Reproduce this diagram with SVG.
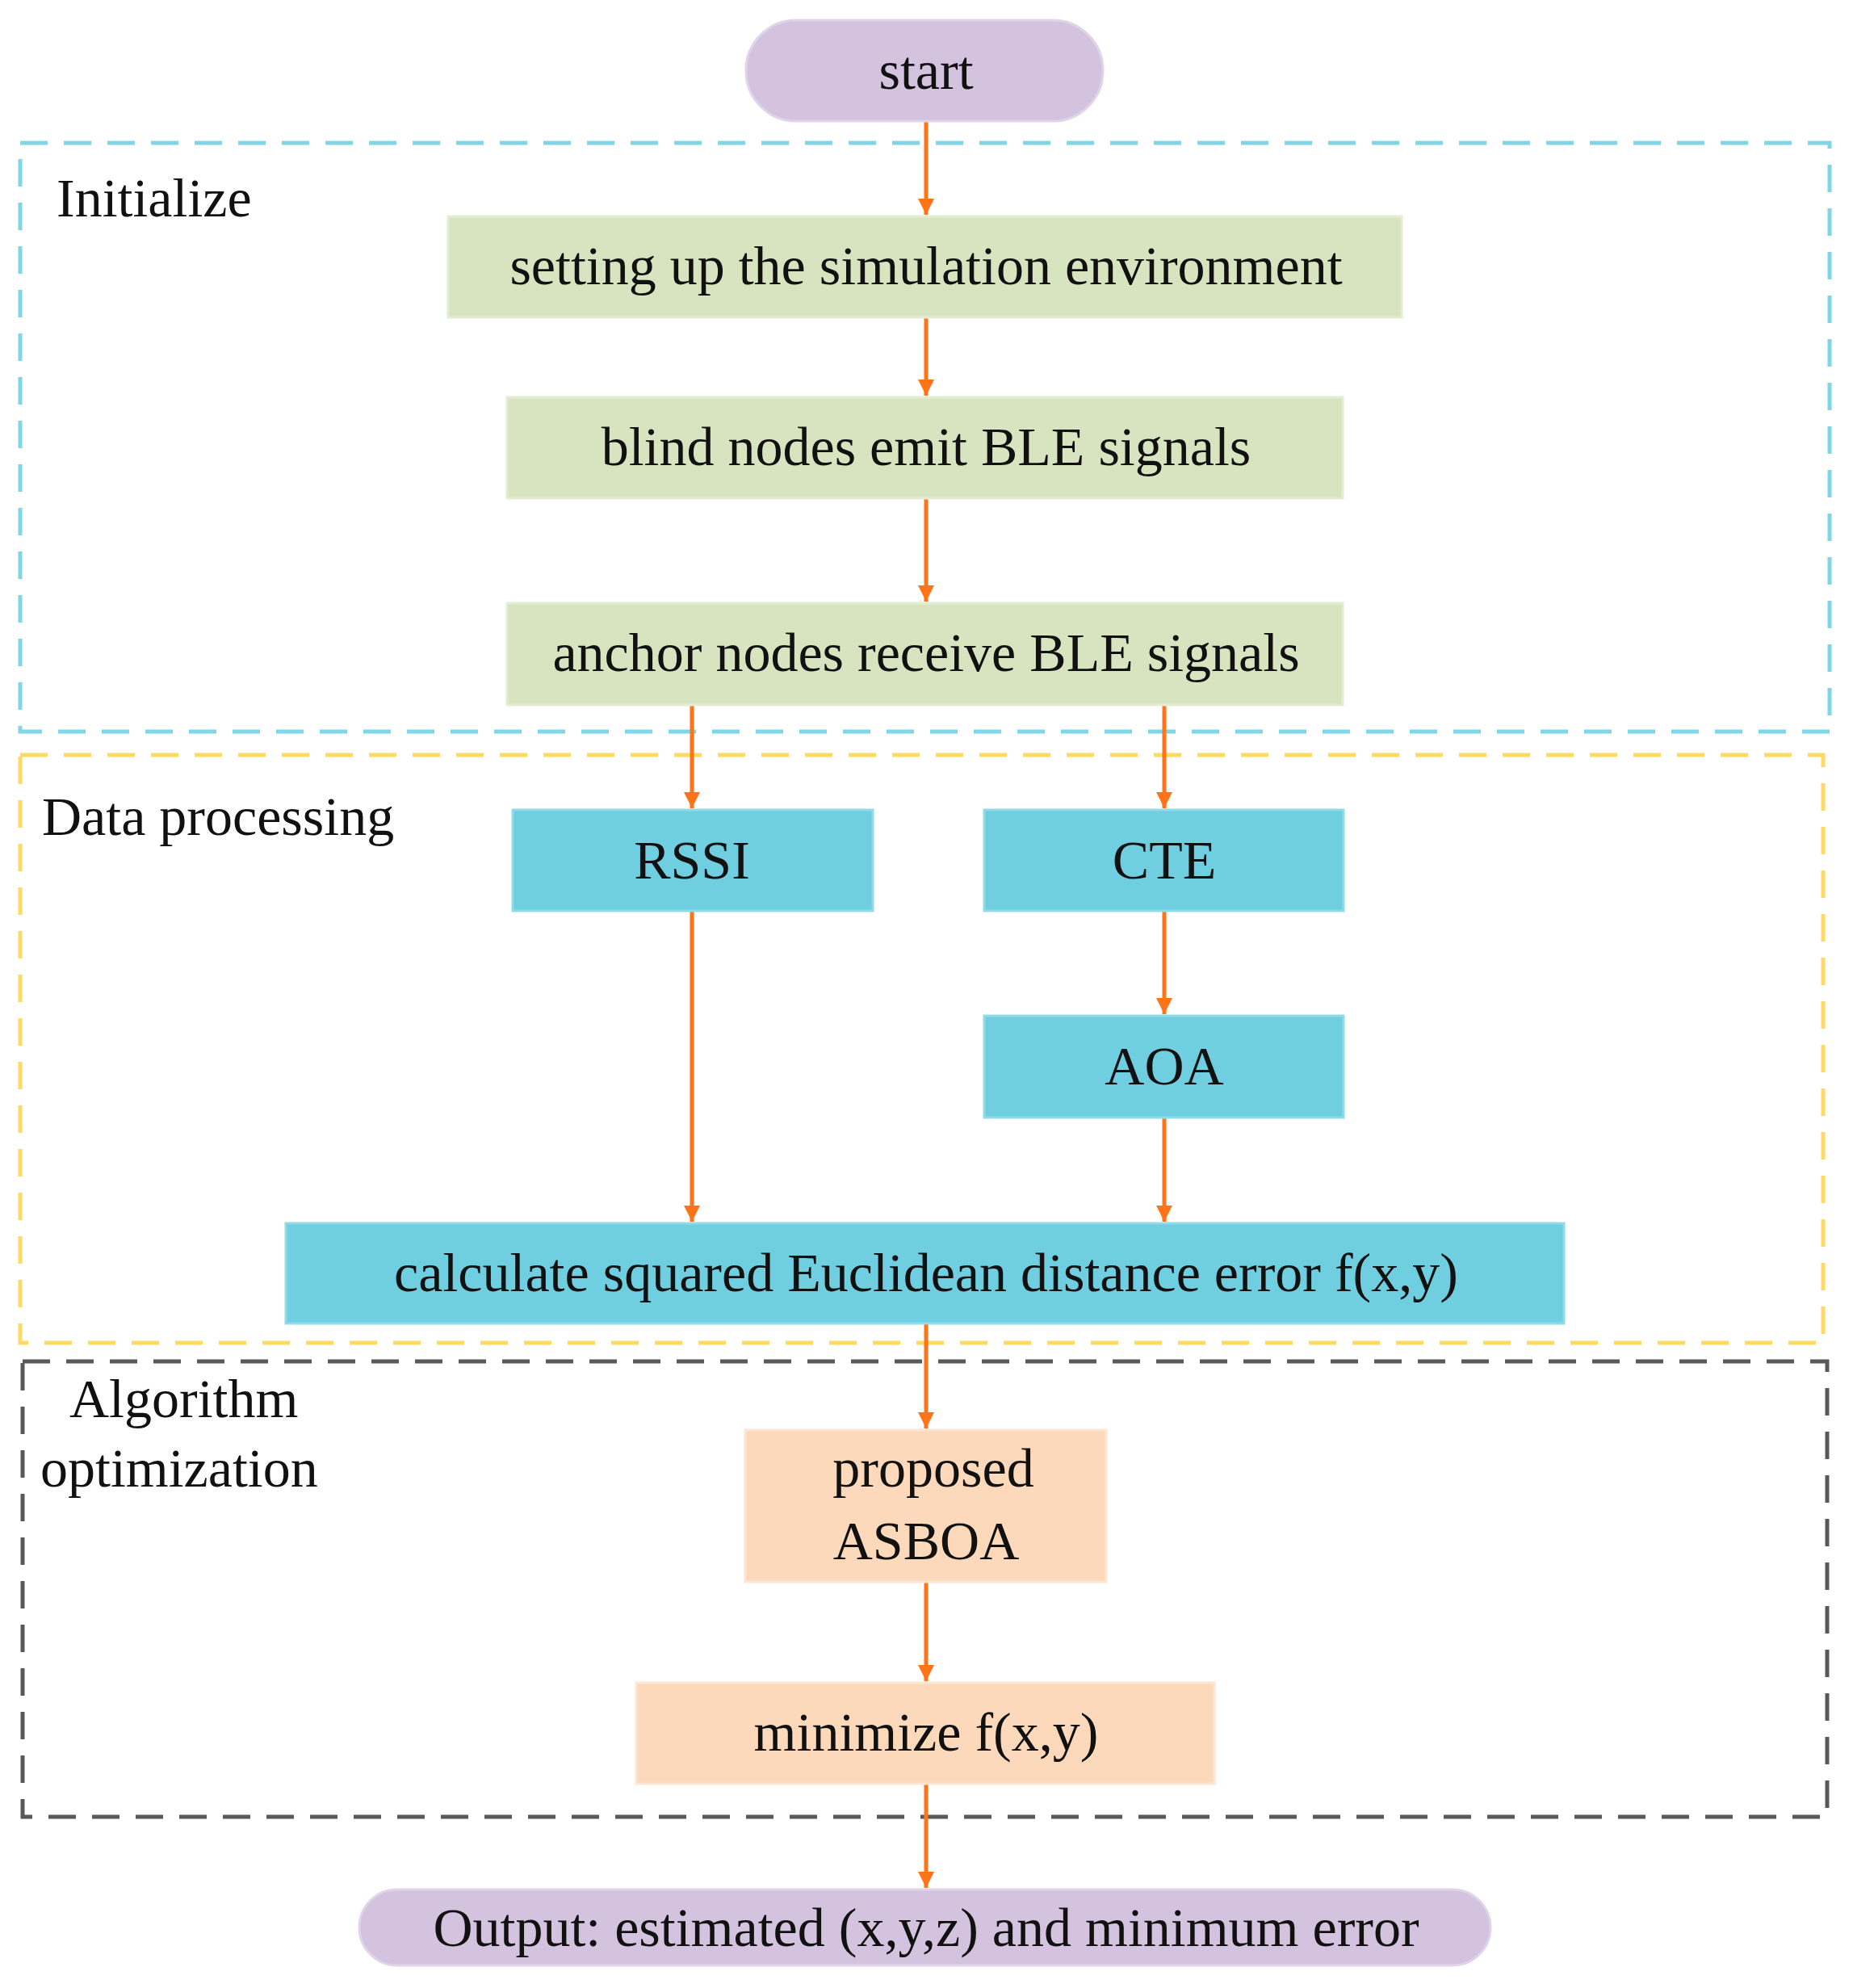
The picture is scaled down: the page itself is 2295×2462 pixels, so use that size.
<svg xmlns="http://www.w3.org/2000/svg" width="2295" height="2462" viewBox="0 0 2295 2462">
<style>
text{font-family:"Liberation Serif","Times New Roman",serif;font-size:68px;fill:#111}
.c{text-anchor:middle}
.g{fill:#d7e4bf;stroke:#e3edd2;stroke-width:3}
.b{fill:#6fcedf;stroke:#8fdbe8;stroke-width:3}
.p{fill:#fdd9bb;stroke:#fee6d2;stroke-width:3}
.u{fill:#d3c3df;stroke:#e0d4e8;stroke-width:3}
.d{fill:none;stroke-width:5;stroke-dasharray:34 20}
.a{stroke:#ff7418;stroke-width:5;fill:none;marker-end:url(#ah)}
</style>
<defs><marker id="ah" viewBox="0 0 10 10" refX="10" refY="5" markerWidth="5" markerHeight="9" orient="auto" markerUnits="userSpaceOnUse"><path d="M0,0 L10,5 L0,10 z" fill="#ff7418"/></marker>
<marker id="ah2" viewBox="0 0 10 10" refX="10" refY="5" markerWidth="4" markerHeight="4" orient="auto"><path d="M0,0 L10,5 L0,10 z" fill="#ff7418"/></marker></defs>
<g id="groups">
<rect class="d" x="25" y="177" width="2241" height="729" stroke="#7fd6e6"/>
<rect class="d" x="25" y="935" width="2233" height="728" stroke="#ffd966"/>
<rect class="d" x="28" y="1686" width="2235" height="564" stroke="#595959"/>
<text x="70" y="268">Initialize</text>
<text x="52" y="1034">Data processing</text>
<text x="86" y="1755">Algorithm</text>
<text x="50" y="1841">optimization</text>
</g>
<g id="connectors">
<line class="a" x1="1147" y1="150" x2="1147" y2="266" style="marker-end:url(#ah2)"/>
<line class="a" x1="1147" y1="393" x2="1147" y2="490" style="marker-end:url(#ah2)"/>
<line class="a" x1="1147" y1="617" x2="1147" y2="745" style="marker-end:url(#ah2)"/>
<line class="a" x1="857" y1="873" x2="857" y2="1001" style="marker-end:url(#ah2)"/>
<line class="a" x1="1442" y1="873" x2="1442" y2="1001" style="marker-end:url(#ah2)"/>
<line class="a" x1="1442" y1="1128" x2="1442" y2="1256" style="marker-end:url(#ah2)"/>
<line class="a" x1="857" y1="1128" x2="857" y2="1513" style="marker-end:url(#ah2)"/>
<line class="a" x1="1442" y1="1384" x2="1442" y2="1513" style="marker-end:url(#ah2)"/>
<line class="a" x1="1147" y1="1639" x2="1147" y2="1769" style="marker-end:url(#ah2)"/>
<line class="a" x1="1147" y1="1959" x2="1147" y2="2082" style="marker-end:url(#ah2)"/>
<line class="a" x1="1147" y1="2209" x2="1147" y2="2338" style="marker-end:url(#ah2)"/>
</g>
<g id="start"><rect class="u" x="924" y="25" width="442" height="125" rx="62"/><text class="c" x="1147" y="110">start</text></g>
<g id="setup"><rect class="g" x="555" y="268" width="1181" height="125"/><text class="c" x="1147" y="352">setting up the simulation environment</text></g>
<g id="blind"><rect class="g" x="628" y="492" width="1035" height="125"/><text class="c" x="1147" y="576">blind nodes emit BLE signals</text></g>
<g id="anchor"><rect class="g" x="628" y="747" width="1035" height="126"/><text class="c" x="1147" y="831">anchor nodes receive BLE signals</text></g>
<g id="rssi"><rect class="b" x="635" y="1003" width="446" height="125"/><text class="c" x="857" y="1088">RSSI</text></g>
<g id="cte"><rect class="b" x="1219" y="1003" width="445" height="125"/><text class="c" x="1442" y="1088">CTE</text></g>
<g id="aoa"><rect class="b" x="1219" y="1258" width="445" height="126"/><text class="c" x="1442" y="1343">AOA</text></g>
<g id="calc"><rect class="b" x="354" y="1515" width="1583" height="124"/><text class="c" x="1147" y="1599">calculate squared Euclidean distance error f(x,y)</text></g>
<g id="asboa"><rect class="p" x="923" y="1771" width="447" height="188"/><text class="c" x="1156" y="1841">proposed</text><text class="c" x="1147" y="1931">ASBOA</text></g>
<g id="minimize"><rect class="p" x="788" y="2084" width="716" height="125"/><text class="c" x="1147" y="2168">minimize  f(x,y)</text></g>
<g id="output"><rect class="u" x="445" y="2340" width="1401" height="94" rx="47"/><text class="c" x="1147" y="2410">Output: estimated (x,y,z) and minimum error</text></g>
</svg>
